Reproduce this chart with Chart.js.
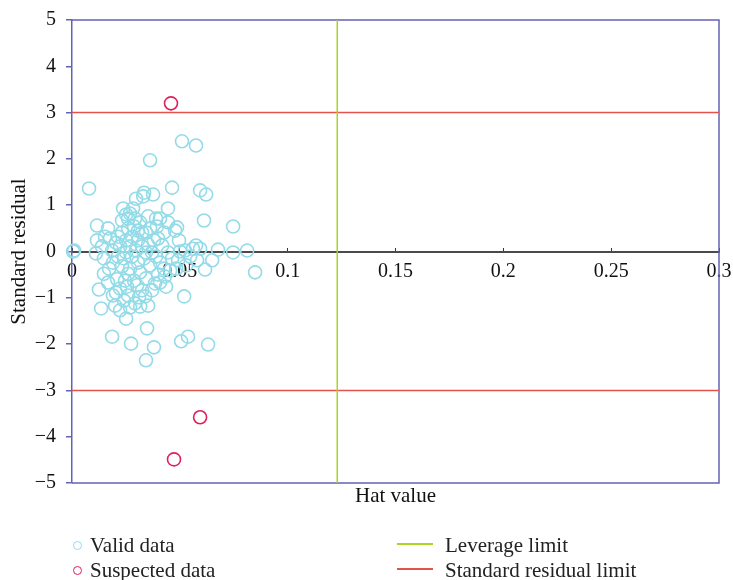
<!DOCTYPE html>
<html>
<head>
<meta charset="utf-8">
<script src="https://cdn.jsdelivr.net/npm/chart.js@4"></script>
<style>
  body { margin: 0; background: #fff; }
  #wrap { position: relative; width: 733px; height: 580px; }
  #legend { position: absolute; left: 0; top: 533px; width: 733px; font: 21px "Liberation Serif", serif; color: #222; }
  .item { position: absolute; white-space: nowrap; line-height: 25px; }
  .dot { display: inline-block; width: 7px; height: 7px; border-radius: 50%; border: 1.5px solid; vertical-align: middle; margin-right: 8px; position: relative; top: -2px; }
  .bar { display: inline-block; width: 36px; height: 2px; vertical-align: middle; margin-right: 12px; position: relative; top: -3px; }
</style>
</head>
<body>
<div id="wrap">
  <canvas id="chart" width="733" height="580"></canvas>
  <div id="legend">
    <div class="item" style="left:73px;top:0"><span class="dot" style="border-color:#94dbe8"></span>Valid data</div>
    <div class="item" style="left:73px;top:25px"><span class="dot" style="border-color:#df1f5a"></span>Suspected data</div>
    <div class="item" style="left:397px;top:0"><span class="bar" style="background:#a9d41f"></span>Leverage limit</div>
    <div class="item" style="left:397px;top:25px"><span class="bar" style="background:#e2534b"></span>Standard residual limit</div>
  </div>
</div>
<script>
// values
const validHat = [
  0.0005, 0.001, 0.0079, 0.0362, 0.051, 0.0575, 0.0464, 0.0594, 0.0622, 0.0334,
  0.033, 0.0376, 0.0297, 0.0445, 0.0237, 0.0269, 0.0116, 0.0167, 0.0232, 0.0445,
  0.0487, 0.0612, 0.0747, 0.0812, 0.0747, 0.0677, 0.0849, 0.0617, 0.052, 0.0506,
  0.0538, 0.0631, 0.0343, 0.038, 0.0274, 0.0348, 0.0186, 0.0125, 0.0135, 0.02,
  0.0116, 0.0153, 0.0111, 0.019, 0.0172, 0.0209, 0.019, 0.0204, 0.0241, 0.0269,
  0.0292, 0.0311, 0.0339, 0.0353, 0.0255, 0.0246, 0.026, 0.0302, 0.0385, 0.0408,
  0.0431, 0.0455, 0.0483, 0.0529, 0.0548, 0.0561, 0.0575, 0.0496, 0.0478, 0.0501,
  0.0418, 0.0399, 0.0394, 0.039, 0.0362, 0.0343, 0.0316, 0.0292, 0.026, 0.0232,
  0.0251, 0.0278, 0.0306, 0.0325, 0.0353, 0.0371, 0.039, 0.0408, 0.0362, 0.0334,
  0.0306, 0.0278, 0.0251, 0.0223, 0.0213, 0.0232, 0.0269, 0.0316, 0.0343, 0.0288,
  0.0223, 0.0167, 0.0148, 0.0204, 0.0186, 0.026, 0.0288, 0.0325, 0.0427, 0.0445,
  0.0464, 0.0427, 0.0399, 0.0371, 0.0325, 0.026, 0.0297, 0.0343, 0.0241, 0.0306,
  0.0213, 0.0283, 0.0251, 0.0408, 0.0524, 0.058, 0.0594, 0.065, 0.0492, 0.0176,
  0.0269, 0.038, 0.0148, 0.0139, 0.0353, 0.0436, 0.0316, 0.0251, 0.0223
];
const validResidual = [
  0.0, 0.02, 1.36, 1.97, 2.38, 2.29, 1.38, 1.32, 1.23, 1.27,
  1.19, 1.23, 1.14, 0.93, 0.93, 0.82, 0.56, 0.5, 0.67, 0.63,
  0.52, 0.67, 0.54, 0.02, -0.02, 0.04, -0.45, -0.39, -0.97, -1.94,
  -1.84, -2.01, -2.35, -2.07, -1.99, -1.66, -1.84, -0.82, -1.23, -1.17,
  0.24, 0.32, -0.04, -0.24, -0.37, -0.6, -0.95, -0.89, -1.06, -1.21,
  -1.12, -0.99, -0.97, -1.17, -0.76, -0.63, -0.48, -0.73, -0.69, -0.67,
  -0.54, -0.41, -0.37, -0.3, -0.11, 0.06, 0.13, 0.24, 0.45, 0.0,
  0.13, 0.28, 0.54, 0.71, 0.5, 0.41, 0.63, 0.71, 0.71, 0.41,
  0.24, 0.32, 0.24, 0.11, 0.15, -0.02, -0.11, -0.24, -0.3, -0.15,
  -0.24, -0.11, -0.02, 0.11, -0.11, -0.32, -0.37, -0.45, -0.58, -0.63,
  -0.8, -0.67, -0.48, 0.19, 0.02, 0.5, 0.54, 0.41, 0.41, -0.02,
  -0.15, -0.37, -0.5, -0.84, -0.84, -0.95, 0.02, -0.02, -0.15, 0.45,
  0.32, 0.93, 0.8, 0.71, 0.02, -0.19, 0.06, -0.19, -0.19, 0.28,
  0.11, 0.24, -0.15, 0.11, 0.76, -0.76, -1.19, -1.45, -1.27
];
const suspectedHat = [0.0459, 0.0594, 0.0473];
const suspectedResidual = [3.2, -3.58, -4.49];
const leverageLimit = 0.123;
const residualLimit = 3;
const hatRange = [0, 0.3];
const residualRange = [-5, 5];

const FONT = '"Liberation Serif", serif';
const FRAME = '#6363b5';

const toPoints = (xs, ys) => xs.map((x, i) => ({ x, y: ys[i] }));

const framePlugin = {
  id: 'frame',
  beforeDatasetsDraw(chart) {
    const { ctx, chartArea: a } = chart;
    ctx.save();
    ctx.strokeStyle = FRAME;
    ctx.lineWidth = 1.5;
    ctx.beginPath();
    ctx.moveTo(a.left, a.top); ctx.lineTo(a.right, a.top);
    ctx.lineTo(a.right, a.bottom); ctx.lineTo(a.left, a.bottom);
    ctx.stroke();
    ctx.restore();
  }
};

new Chart(document.getElementById('chart'), {
  type: 'scatter',
  data: {
    datasets: [
      {
        label: 'Leverage limit',
        data: [{ x: leverageLimit, y: residualRange[0] }, { x: leverageLimit, y: residualRange[1] }],
        showLine: true, pointRadius: 0, borderColor: '#a9d41f', borderWidth: 1.5
      },
      {
        label: 'Standard residual limit',
        data: [{ x: hatRange[0], y: residualLimit }, { x: hatRange[1], y: residualLimit }],
        showLine: true, pointRadius: 0, borderColor: '#e2534b', borderWidth: 1.5
      },
      {
        label: 'Standard residual limit (lower)',
        data: [{ x: hatRange[0], y: -residualLimit }, { x: hatRange[1], y: -residualLimit }],
        showLine: true, pointRadius: 0, borderColor: '#e2534b', borderWidth: 1.5
      },
      {
        label: 'Valid data',
        data: toPoints(validHat, validResidual),
        pointRadius: 6.5, pointBorderWidth: 1.6,
        borderColor: '#94dbe8', backgroundColor: 'rgba(0,0,0,0)', clip: false
      },
      {
        label: 'Suspected data',
        data: toPoints(suspectedHat, suspectedResidual),
        pointRadius: 6.5, pointBorderWidth: 1.6,
        borderColor: '#df1f5a', backgroundColor: 'rgba(0,0,0,0)', clip: false
      }
    ]
  },
  options: {
    responsive: false,
    animation: false,
    layout: { padding: { left: 0, top: 20, right: 14, bottom: 70 } },
    plugins: { legend: { display: false }, tooltip: { enabled: false } },
    scales: {
      x: {
        type: 'linear',
        position: { y: 0 },
        min: hatRange[0], max: hatRange[1],
        ticks: {
          stepSize: 0.05, padding: 13, color: '#111',
          font: { family: FONT, size: 20 },
          callback: v => String(+v.toFixed(2))
        },
        grid: { drawOnChartArea: false, tickLength: -5, color: '#333', lineWidth: 1 },
        border: { color: '#4a4a4a', width: 2 },
        afterFit: s => { s.paddingLeft = 0; s.paddingRight = 0; }
      },
      xt: {
        type: 'linear',
        position: 'bottom',
        min: 0, max: 1,
        ticks: { display: false },
        grid: { display: false, drawTicks: false },
        border: { display: false },
        title: { display: true, text: 'Hat value', color: '#111', font: { family: FONT, size: 21 }, padding: 1 },
        afterFit: s => { s.height = 27; s.paddingLeft = 0; s.paddingRight = 0; }
      },
      y: {
        type: 'linear',
        position: 'left',
        min: residualRange[0], max: residualRange[1],
        ticks: {
          stepSize: 1, padding: 10, color: '#111',
          font: { family: FONT, size: 20 },
          callback: v => (v < 0 ? '\u2212' + Math.abs(v) : String(v))
        },
        grid: { drawOnChartArea: false, tickLength: 6, color: FRAME, lineWidth: 1.5 },
        border: { color: FRAME, width: 1.5 },
        title: { display: true, text: 'Standard residual', color: '#111', font: { family: FONT, size: 21 }, padding: 7 },
        afterFit: s => { s.width = 72; s.paddingTop = 0; s.paddingBottom = 0; }
      }
    }
  },
  plugins: [framePlugin]
});
</script>
</body>
</html>
